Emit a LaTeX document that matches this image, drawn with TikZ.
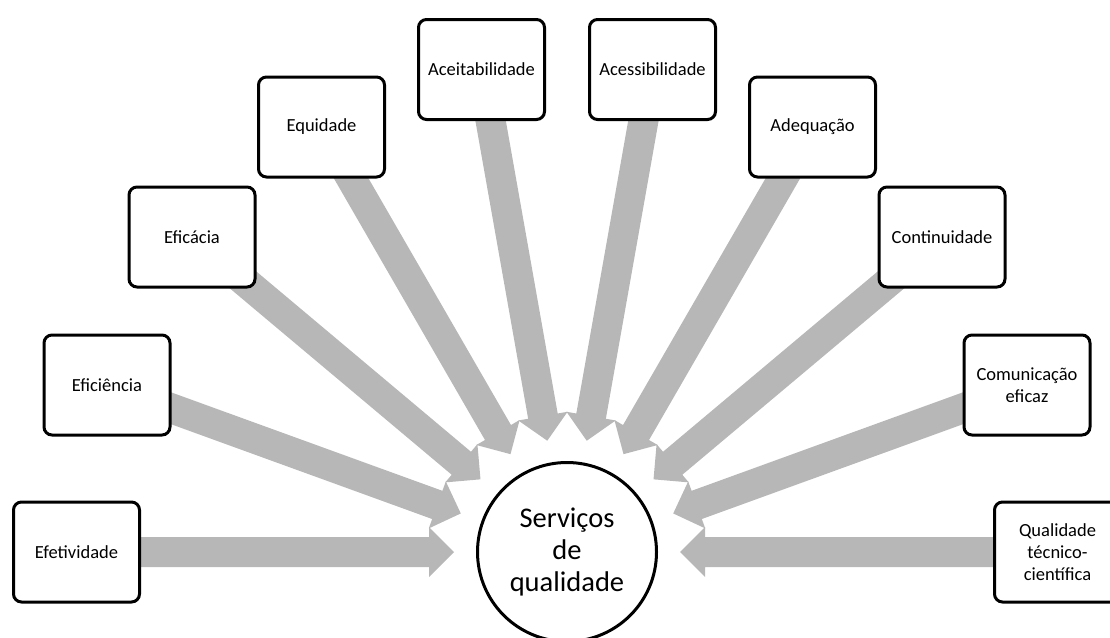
\documentclass[tikz,border=0pt]{standalone}
\usepackage{fontspec}
\setmainfont{Carlito}
\usetikzlibrary{calc,backgrounds}
\definecolor{arrowgray}{RGB}{183,183,183}
\tikzset{
  item/.style={draw=black, line width=3pt, rounded corners=8pt, fill=white,
    minimum width=126pt, minimum height=100pt, align=center, inner sep=2pt,
    font=\fontsize{18.5}{22}\selectfont},
  hub/.style={circle, draw=black, line width=3pt, fill=white,
    minimum size=179pt, align=center, inner sep=0pt,
    font=\fontsize{28.5}{32}\selectfont},
  spokefill/.style={fill=arrowgray},
}
% block arrow from a box toward the hub
\newcommand\spoke[1]{%
  \coordinate (tip-#1) at ($(hub)!113pt!(#1)$);
  \coordinate (neck-#1) at ($(tip-#1)!25pt!(#1)$);
  \fill[spokefill]
    ($(#1)!15pt!90:(tip-#1)$) -- ($(neck-#1)!15pt!90:(tip-#1)$)
    -- ($(neck-#1)!25pt!90:(tip-#1)$) -- (tip-#1)
    -- ($(neck-#1)!25pt!-90:(tip-#1)$) -- ($(neck-#1)!15pt!-90:(tip-#1)$)
    -- ($(#1)!15pt!-90:(tip-#1)$) -- cycle;
}
\begin{document}
\begin{tikzpicture}[x=1pt,y=-1pt]
\useasboundingbox (0,0) rectangle (1110,637);
\node[hub] (hub) at (567,552) {Serviços\\de\\qualidade};
\node[item] (efetividade)    at (76.5,552)  {Efetividade};
\node[item] (eficiencia)     at (107,385)   {Eficiência};
\node[item] (eficacia)       at (192,237)   {Eficácia};
\node[item] (equidade)       at (321.5,127) {Equidade};
\node[item] (aceitabilidade) at (481.5,69.5) {Aceitabilidade};
\node[item] (acessibilidade) at (652.5,69.5) {Acessibilidade};
\node[item] (adequacao)      at (812.5,127) {Adequação};
\node[item] (continuidade)   at (942,237)   {Continuidade};
\node[item] (comunicacao)    at (1027,385)  {Comunicação\\eficaz};
\node[item] (qualidade)      at (1057.5,552) {Qualidade\\técnico-\\científica};
\begin{scope}[on background layer]
  \foreach \n in {efetividade,eficiencia,eficacia,equidade,aceitabilidade,
                  acessibilidade,adequacao,continuidade,comunicacao,qualidade}
    {\spoke{\n}}
\end{scope}
\end{tikzpicture}
\end{document}
